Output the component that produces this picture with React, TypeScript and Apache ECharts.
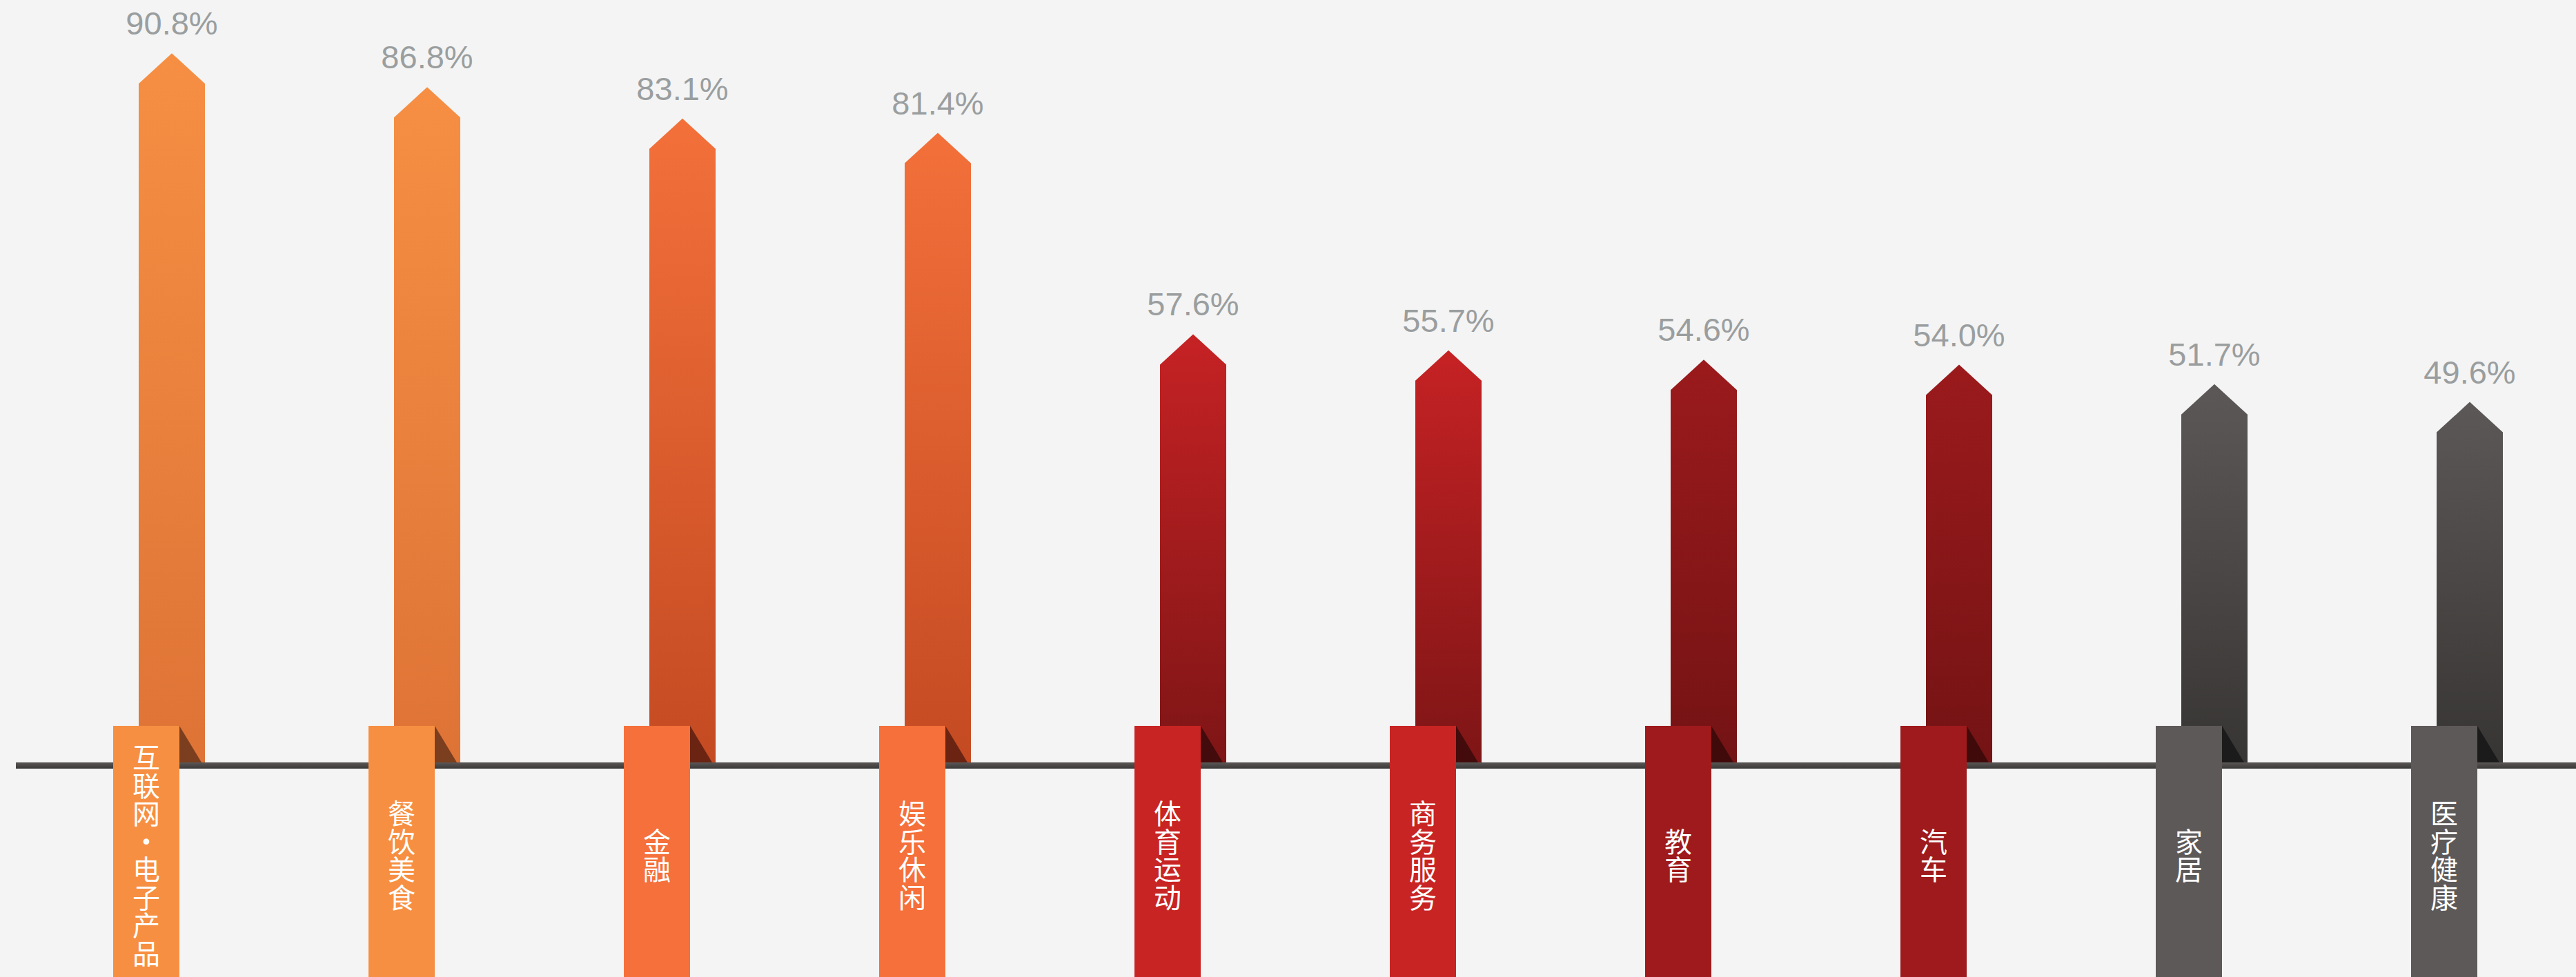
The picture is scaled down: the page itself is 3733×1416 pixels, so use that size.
import React, { useEffect, useRef } from "react";
import * as echarts from "echarts";

const categories = ["互联网·电子产品", "餐饮美食", "金融", "娱乐休闲", "体育运动", "商务服务", "教育", "汽车", "家居", "医疗健康"];
const values = [90.8, 86.8, 83.1, 81.4, 57.6, 55.7, 54.6, 54.0, 51.7, 49.6];

const palette = [
  { top: "#F68F43", bottom: "#DE7336", box: "#F78F42", fold: "#7B3E1E" },
  { top: "#F68F43", bottom: "#DE7336", box: "#F78F42", fold: "#7B3E1E" },
  { top: "#F3703A", bottom: "#C44A22", box: "#F5703A", fold: "#6B2412" },
  { top: "#F3703A", bottom: "#C44A22", box: "#F5703A", fold: "#6B2412" },
  { top: "#C62224", bottom: "#7E1516", box: "#C82423", fold: "#430B0B" },
  { top: "#C62224", bottom: "#7E1516", box: "#C82423", fold: "#430B0B" },
  { top: "#9B1A1C", bottom: "#741314", box: "#9E1A1C", fold: "#410A0A" },
  { top: "#9B1A1C", bottom: "#741314", box: "#9E1A1C", fold: "#410A0A" },
  { top: "#5D5858", bottom: "#373533", box: "#5E5959", fold: "#1C1B1B" },
  { top: "#5D5858", bottom: "#373533", box: "#5E5959", fold: "#1C1B1B" },
];

const Y_MIN = 7;
const Y_MAX = 97.1;

export default function App() {
  const ref = useRef<HTMLDivElement>(null);
  useEffect(() => {
    if (!ref.current) return;
    const chart = echarts.init(ref.current, undefined, { renderer: "svg" });
    const W = 3733;
    const H = 1416;
    const gridBottom = 311;

    const renderItem = (params: any, api: any) => {
      const i = api.value(0);
      const v = api.value(1);
      const p = api.coord([i, v]);
      const cs = params.coordSys;
      const baseY = cs.y + cs.height;
      const cx = p[0];
      const bx = cx + 37;
      const hw = 48;
      const tip = 44;
      const topY = p[1];
      const pal = palette[i];
      const chartH = api.getHeight();
      return {
        type: "group",
        children: [
          {
            type: "polygon",
            shape: {
              points: [
                [bx - hw, baseY],
                [bx - hw, topY + tip],
                [bx, topY],
                [bx + hw, topY + tip],
                [bx + hw, baseY],
              ],
            },
            style: {
              fill: new echarts.graphic.LinearGradient(0, 0, 0, 1, [
                { offset: 0, color: pal.top },
                { offset: 1, color: pal.bottom },
              ]),
            },
          },
          {
            type: "polygon",
            shape: {
              points: [
                [cx + hw, baseY - 53],
                [cx + hw, baseY],
                [cx + hw + 32, baseY],
              ],
            },
            style: { fill: pal.fold },
          },
          {
            type: "rect",
            shape: { x: cx - hw, y: baseY - 53, width: hw * 2, height: chartH - (baseY - 53) },
            style: { fill: pal.box },
          },
          {
            type: "text",
            style: {
              text: v.toFixed(1) + "%",
              x: bx,
              y: topY - 20,
              align: "center",
              verticalAlign: "bottom",
              fill: "#9A9E9F",
              fontSize: 47,
              fontFamily: "Liberation Sans",
            },
          },
        ],
      };
    };

    chart.setOption({
      animation: false,
      backgroundColor: "#F4F4F4",
      grid: { left: 27, right: W - 27 - 3700, top: 0, bottom: gridBottom, containLabel: false },
      xAxis: {
        type: "category",
        data: categories,
        z: 20,
        axisLine: { show: false },
        axisTick: { show: false },
        splitLine: { show: false },
        axisLabel: {
          interval: 0,
          formatter: (s: string) => s.split("").join("\n"),
          color: "#FFFFFF",
          fontSize: 40,
          lineHeight: 40.5,
          fontFamily: "Noto Sans CJK SC",
          margin: 133,
          verticalAlign: "middle",
        },
      },
      yAxis: {
        type: "value",
        min: Y_MIN,
        max: Y_MAX,
        show: false,
        splitLine: { show: false },
      },
      graphic: [
        {
          type: "rect",
          z: 1,
          shape: { x: 23, y: H - gridBottom, width: W - 23, height: 9 },
          style: {
            fill: new echarts.graphic.LinearGradient(0, 0, 0, 1, [
              { offset: 0, color: "#5C5757" },
              { offset: 1, color: "#393737" },
            ]),
          },
        },
      ],
      series: [
        {
          type: "custom",
          z: 5,
          renderItem,
          data: values.map((v, i) => [i, v]),
        },
      ],
    });
    return () => chart.dispose();
  }, []);
  return <div ref={ref} style={{ position: "fixed", left: 0, top: 0, width: 3733, height: 1416 }} />;
}
